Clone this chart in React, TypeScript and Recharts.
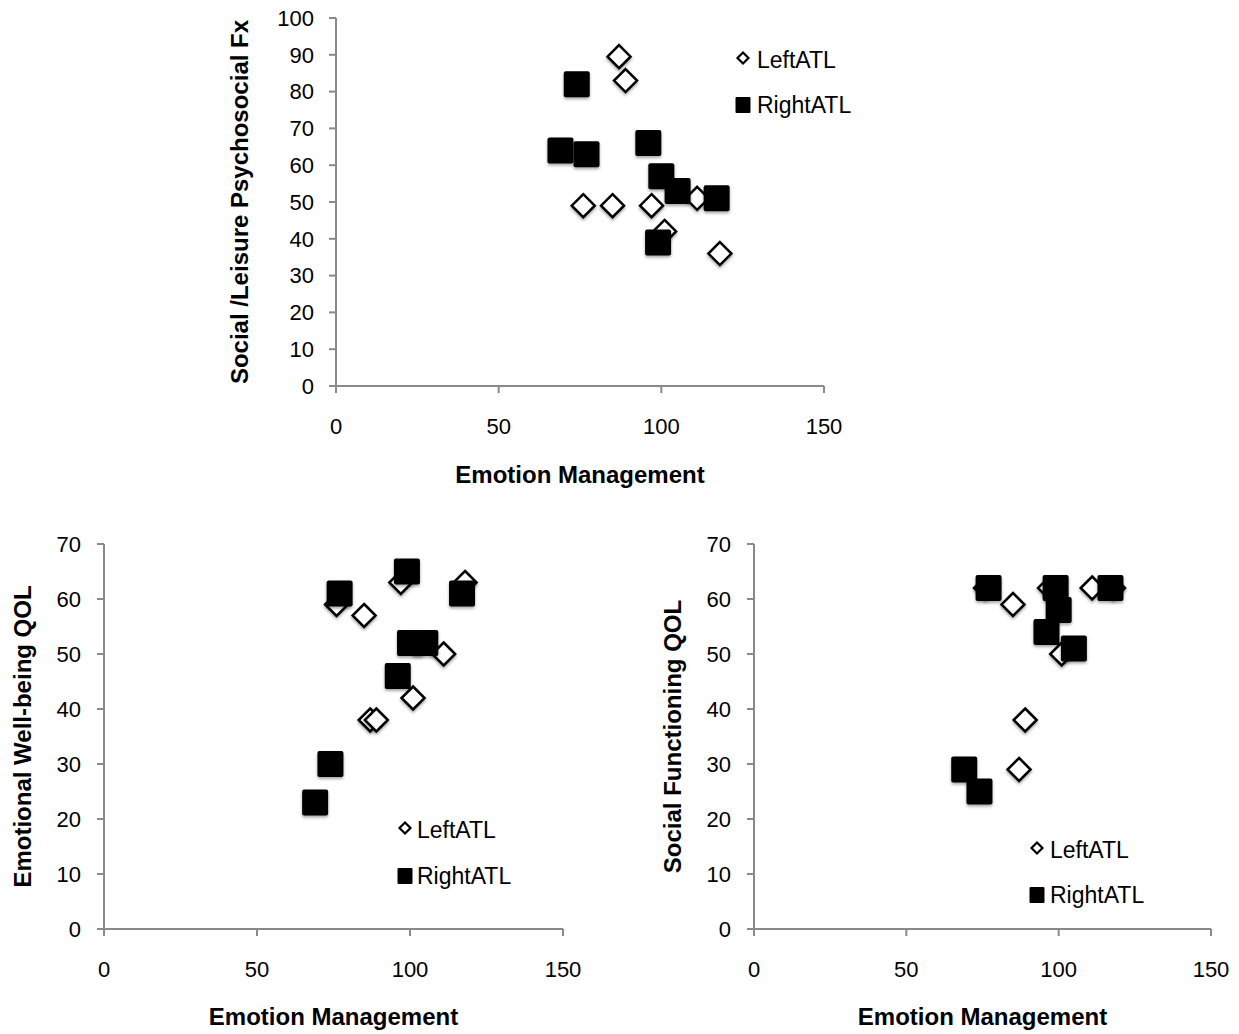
import { ScatterChart, Scatter, XAxis, YAxis, Legend, Label } from "recharts";

const FONT = '"Liberation Sans", Arial, sans-serif';
const AXIS_GRAY = "#8a8a8a";

// Emotion Management scores per group (same subjects in every panel)
const leftEmotion = [76, 85, 87, 89, 97, 101, 111, 118];
const rightEmotion = [69, 74, 77, 96, 99, 100, 105, 117];

// Social/Leisure Psychosocial Fx
const leftSocialLeisure = [49, 49, 89.5, 83, 49, 42, 51, 36];
const rightSocialLeisure = [64, 82, 63, 66, 39, 57, 53, 51];

// Emotional Well-being QOL
const leftWellBeing = [59, 57, 38, 38, 63, 42, 50, 63];
const rightWellBeing = [23, 30, 61, 46, 65, 52, 52, 61];

// Social Functioning QOL
const leftSocialFx = [62, 59, 29, 38, 62, 50, 62, 62];
const rightSocialFx = [29, 25, 62, 54, 62, 58, 51, 62];

const xTicks = [0, 50, 100, 150];
const topYTicks = [0, 10, 20, 30, 40, 50, 60, 70, 80, 90, 100];
const bottomYTicks = [0, 10, 20, 30, 40, 50, 60, 70];

const zip = (xs: number[], ys: number[]) => xs.map((x, i) => ({ x, y: ys[i] }));

const shadow = { filter: "drop-shadow(0px 2px 1.5px rgba(0,0,0,0.35))" };

const Diamond = (props: any) => {
  const { cx, cy } = props;
  const r = 11.5;
  return (
    <polygon
      points={`${cx},${cy - r} ${cx + r},${cy} ${cx},${cy + r} ${cx - r},${cy}`}
      fill="#fff"
      stroke="#000"
      strokeWidth={2.5}
      style={shadow}
    />
  );
};

const Square = (props: any) => {
  const { cx, cy } = props;
  return <rect x={cx - 13} y={cy - 13} width={26} height={26} rx={2} fill="#000" style={shadow} />;
};

const makeLegend = (gap: number, rowGap: number) => (props: any) => {
  const items = props.payload || [];
  return (
    <div style={{ fontFamily: FONT, fontSize: 23, color: "#000" }}>
      {items.map((entry: any, i: number) => (
        <div
          key={entry.value}
          style={{ display: "flex", alignItems: "center", height: 22, marginBottom: i === 0 ? rowGap - 22 : 0 }}
        >
          <svg width={16} height={22} style={{ display: "block" }}>
            {entry.value === "LeftATL" ? (
              <polygon points="8,3.5 13.5,9 8,14.5 2.5,9" fill="#fff" stroke="#000" strokeWidth={2.2} />
            ) : (
              <rect x={0.5} y={3} width={15} height={16} rx={1} fill="#000" />
            )}
          </svg>
          <span style={{ marginLeft: gap, lineHeight: "22px", whiteSpace: "nowrap" }}>{entry.value}</span>
        </div>
      ))}
    </div>
  );
};

interface PanelProps {
  left: number;
  top: number;
  width: number;
  height: number;
  margin: { top: number; right: number; bottom: number; left: number };
  yAxisWidth: number;
  yMax: number;
  yTicks: number[];
  yLabel: string;
  yLabelOffset: number;
  yTickMargin: number;
  xLabelOffset: number;
  leftData: { x: number; y: number }[];
  rightData: { x: number; y: number }[];
  legendLeft: number;
  legendTop: number;
  legendGap: number;
  legendRowGap: number;
}

const Panel = (p: PanelProps) => (
  <div style={{ position: "absolute", left: p.left, top: p.top }}>
    <ScatterChart width={p.width} height={p.height} margin={p.margin}>
      <XAxis
        type="number"
        dataKey="x"
        domain={[0, 150]}
        ticks={xTicks}
        height={100}
        axisLine={{ stroke: AXIS_GRAY, strokeWidth: 2 }}
        tickLine={{ stroke: AXIS_GRAY, strokeWidth: 2 }}
        tickSize={7}
        tickMargin={25}
        tick={{ fill: "#000", fontSize: 22, fontFamily: FONT }}
      >
        <Label
          value="Emotion Management"
          position="insideBottom"
          offset={p.xLabelOffset}
          style={{ fontWeight: "bold", fontSize: 24, fill: "#000", fontFamily: FONT }}
        />
      </XAxis>
      <YAxis
        type="number"
        dataKey="y"
        domain={[0, p.yMax]}
        ticks={p.yTicks}
        width={p.yAxisWidth}
        axisLine={{ stroke: AXIS_GRAY, strokeWidth: 2 }}
        tickLine={{ stroke: AXIS_GRAY, strokeWidth: 2 }}
        tickSize={7}
        tickMargin={p.yTickMargin}
        tick={{ fill: "#000", fontSize: 22, fontFamily: FONT }}
      >
        <Label
          value={p.yLabel}
          angle={-90}
          position="insideLeft"
          offset={p.yLabelOffset}
          style={{ textAnchor: "middle", fontWeight: "bold", fontSize: 24, fill: "#000", fontFamily: FONT }}
        />
      </YAxis>
      <Legend
        layout="vertical"
        align="center"
        verticalAlign="middle"
        content={makeLegend(p.legendGap, p.legendRowGap)}
        wrapperStyle={{ left: p.legendLeft, top: p.legendTop, width: "auto", height: "auto" }}
      />
      <Scatter name="LeftATL" data={p.leftData} shape={Diamond} isAnimationActive={false} />
      <Scatter name="RightATL" data={p.rightData} shape={Square} isAnimationActive={false} />
    </ScatterChart>
  </div>
);

export default function App() {
  return (
    <div style={{ position: "absolute", left: 0, top: 0, width: 1239, height: 1034, background: "#fff" }}>
      <Panel
        left={200}
        top={0}
        width={660}
        height={500}
        margin={{ top: 18, right: 36, bottom: 14, left: 0 }}
        yAxisWidth={136}
        yMax={100}
        yTicks={topYTicks}
        yLabel="Social /Leisure Psychosocial Fx"
        yLabelOffset={39}
        yTickMargin={15}
        xLabelOffset={3}
        leftData={zip(leftEmotion, leftSocialLeisure)}
        rightData={zip(rightEmotion, rightSocialLeisure)}
        legendLeft={535}
        legendTop={49}
        legendGap={6}
        legendRowGap={45}
      />
      <Panel
        left={0}
        top={500}
        width={600}
        height={534}
        margin={{ top: 44, right: 37, bottom: 5, left: 0 }}
        yAxisWidth={104}
        yMax={70}
        yTicks={bottomYTicks}
        yLabel="Emotional Well-being QOL"
        yLabelOffset={22}
        yTickMargin={16}
        xLabelOffset={4}
        leftData={zip(leftEmotion, leftWellBeing)}
        rightData={zip(rightEmotion, rightWellBeing)}
        legendLeft={397}
        legendTop={319}
        legendGap={4}
        legendRowGap={46}
      />
      <Panel
        left={620}
        top={500}
        width={619}
        height={534}
        margin={{ top: 44, right: 28, bottom: 5, left: 0 }}
        yAxisWidth={134}
        yMax={70}
        yTicks={bottomYTicks}
        yLabel="Social Functioning QOL"
        yLabelOffset={52}
        yTickMargin={16}
        xLabelOffset={4}
        leftData={zip(leftEmotion, leftSocialFx)}
        rightData={zip(rightEmotion, rightSocialFx)}
        legendLeft={409}
        legendTop={339}
        legendGap={5}
        legendRowGap={45}
      />
    </div>
  );
}
